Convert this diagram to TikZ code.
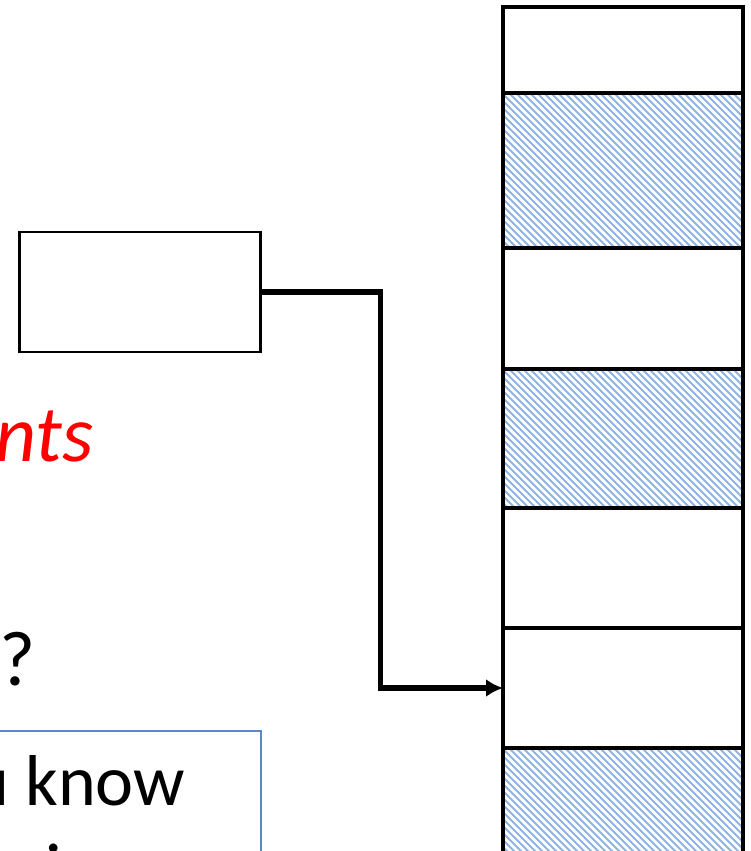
\documentclass[tikz,border=0pt]{standalone}
\usepackage{fontspec}
\setmainfont{Carlito}
\usetikzlibrary{arrows.meta}
\definecolor{hatchblue}{RGB}{142,180,227}
\definecolor{boxblue}{RGB}{91,137,200}
\definecolor{pured}{RGB}{255,0,0}
\begin{document}
\begin{tikzpicture}[x=1pt,y=-1pt,
  rowbox/.style={draw=black, line width=3.3pt, minimum width=240pt, inner sep=0pt, outer sep=0pt},
  hatchline/.style={draw=hatchblue, line width=1.8pt},
  plainbox/.style={draw=black, line width=2.5pt, inner sep=0pt, outer sep=0pt},
  conn/.style={line width=5.5pt, -{Latex[length=17pt,width=18pt]}},
  bigtext/.style={inner sep=0pt, font=\fontsize{78}{94}\selectfont}
]
\useasboundingbox (0,0) rectangle (751,851);
\clip (0,0) rectangle (751,851);
% hatching
\foreach \ya/\yb in {93/248, 369/508, 748/900}{
  \begin{scope}
    \clip (503,\ya) rectangle (743,\yb);
    \foreach \i in {-260,-253,...,260}
      \draw[hatchline] (503+\i,\ya) -- ++(260,260);
  \end{scope}
}
% column rows
\node[rowbox, minimum height=86pt]  (r1) at (623,50)   {};
\node[rowbox, minimum height=155pt] (r2) at (623,170.5) {};
\node[rowbox, minimum height=121pt] (r3) at (623,308.5) {};
\node[rowbox, minimum height=139pt] (r4) at (623,438.5) {};
\node[rowbox, minimum height=120pt] (r5) at (623,568)  {};
\node[rowbox, minimum height=120pt] (r6) at (623,688)  {};
\node[rowbox, minimum height=152pt] (r7) at (623,824)  {};
% small box
\node[plainbox, minimum width=241pt, minimum height=120pt] (src) at (140,292) {};
% connector
\draw[conn] (src.east) -- ++(120,0) |- (r6.west);
% texts
\node[bigtext, anchor=base west, text=pured, font=\fontsize{80}{96}\selectfont\itshape] (t1) at (-5,461) {nts};
\node[bigtext, anchor=base west] (t2) at (-1,685) {?};
% blue box
\node[draw=boxblue, line width=2pt, inner sep=0pt, minimum width=270pt, minimum height=200pt] (note) at (126,831) {};
\node[bigtext, anchor=base west, font=\fontsize{72}{86}\selectfont] (t3) at (-29,805) {u know};
\node[bigtext, anchor=base west, font=\fontsize{72}{86}\selectfont] (t4) at (45,893) {i};
\end{tikzpicture}
\end{document}
